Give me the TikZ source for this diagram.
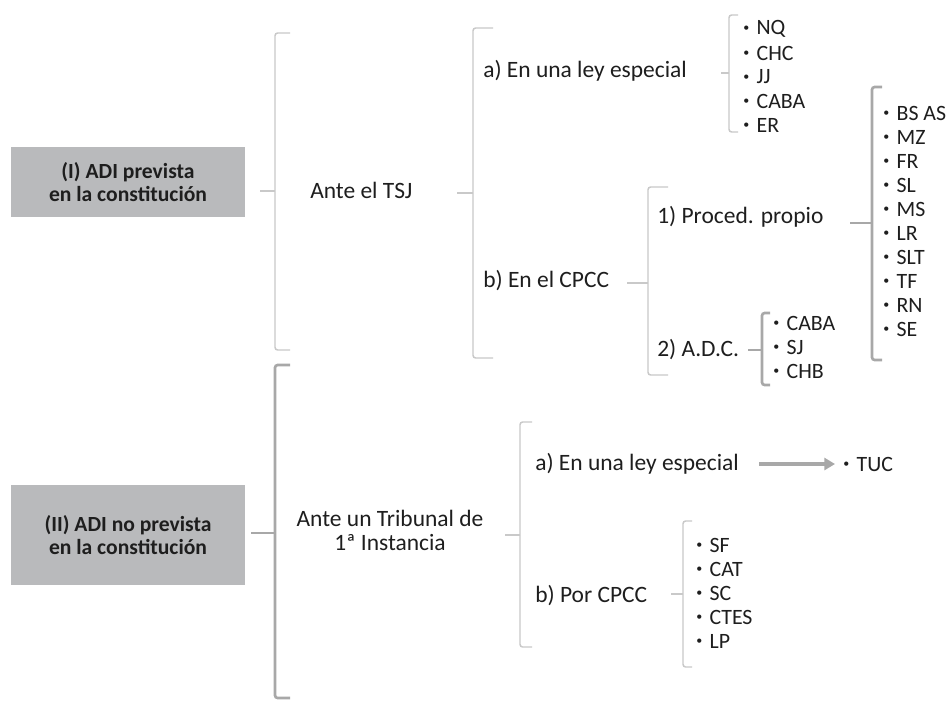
\documentclass[tikz,border=0pt]{standalone}
\usepackage{fontspec}
\setmainfont{Carlito}
\usepackage{tikz}
\usetikzlibrary{arrows.meta}

\definecolor{boxgray}{HTML}{B9BABC}
\definecolor{light}{HTML}{C9C9C9}
\definecolor{dark}{HTML}{A8A8A8}
\definecolor{ink}{HTML}{1E1E1E}

\begin{document}
\begin{tikzpicture}[x=0.75pt,y=-0.75pt,
   box/.style={fill=boxgray, minimum width=175.5pt, align=center, text=ink,
     font=\fontsize{16.2}{17.6}\selectfont\bfseries},
   lbl/.style={anchor=west, inner sep=0pt, text=ink, font=\fontsize{17.6}{18}\selectfont},
   item/.style={anchor=west, inner sep=0pt, text=ink, font=\fontsize{16.4}{18}\selectfont,
     execute at begin node={\makebox[10pt][l]{\raisebox{2.3pt}{\fontsize{9}{9}\selectfont•}}}},
   brace/.style={draw=light, line width=1.1pt, rounded corners=2pt},
   heavy/.style={draw=dark, line width=2pt, rounded corners=2pt}]
   \fill[white] (0,0) rectangle (949,701);
   \useasboundingbox (0,0) rectangle (949,701);

   % the two kinds of ADI
   \node[box, minimum height=52.5pt] (adi1) at (128,182) {(I) ADI prevista\\en la constitución};
   \node[box, minimum height=75pt] (adi2) at (128,535) {(II) ADI no prevista\\en la constitución};

   \node[lbl] (tsj) at (310,190) {Ante el TSJ};
   \node[lbl, anchor=center, align=center] (trib) at (390,530) {Ante un Tribunal de\\1ª Instancia};

   \node[lbl] (ley1) at (483,71) {a) En una ley especial};
   \node[lbl] (cpcc1) at (483,281) {b) En el CPCC};
   \node[lbl] (prop) at (657,217) {1) Proced. propio};
   \node[lbl] (adc) at (657,350) {2) A.D.C.};
   \node[lbl] (ley2) at (535,464) {a) En una ley especial};
   \node[lbl] (cpcc2) at (535,596) {b) Por CPCC};

   % provinces
   \foreach \t [count=\i] in {NQ,CHC,JJ,CABA,ER}
      \node[item] (la\i) at (743,5+24*\i) {\t};
   \foreach \t [count=\i] in {BS AS,MZ,FR,SL,MS,LR,SLT,TF,RN,SE}
      \node[item] (pp\i) at (883,89+24*\i) {\t};
   \foreach \t [count=\i] in {CABA,SJ,CHB}
      \node[item] (ad\i) at (773,299+24*\i) {\t};
   \foreach \t [count=\i] in {SF,CAT,SC,CTES,LP}
      \node[item] (cp\i) at (696,521+24*\i) {\t};
   \node[item] (tuc) at (843,464) {TUC};

   % brackets: no/x/top/bottom/middle/nub/hook/style
   \foreach \n/\x/\t/\b/\m/\s/\h/\k in {
      1/275/33/350/191/15/15/brace, 2/473/28/358/193/16/20/brace,
      3/729/15/132/73/8/9/brace, 4/648/187/375/283/21/20/brace,
      5/762/313/385/350/14/8/heavy, 6/872/87/360/223/22/10/heavy,
      7/275/365/698/533/24/15/heavy, 8/520/422/647/535/15/12/brace,
      9/683/521/667/594/12/9/brace}
   {
      \coordinate (k\n) at (\x,\m);
      \draw[\k] (\x+\h,\t) -- (\x,\t) -- (\x,\b) -- (\x+\h,\b);
      \draw[\k] (k\n) -- ++(-\s,0);
   }

   \draw[draw=dark, line width=3pt, -{Triangle[length=8pt,width=9pt]},
      shorten <=15pt, shorten >=6pt] (ley2.east) -- (tuc.west);
\end{tikzpicture}
\end{document}
